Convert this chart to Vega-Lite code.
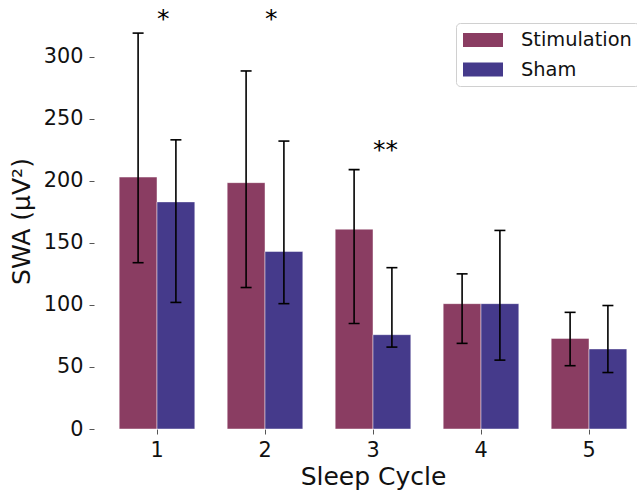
{
  "$schema": "https://vega.github.io/schema/vega-lite/v6.json",
  "autosize": "none",
  "padding": {"left": 94, "top": 13, "right": 0, "bottom": 62},
  "width": 543,
  "height": 416,
  "background": "white",
  "config": {
    "view": {"stroke": null},
    "font": "DejaVu Sans",
    "axis": {
      "domain": false,
      "grid": false,
      "labelFont": "DejaVu Sans",
      "titleFont": "DejaVu Sans",
      "labelFontSize": 20.8,
      "titleFontSize": 25,
      "titleFontWeight": "normal",
      "labelColor": "#111111",
      "titleColor": "#111111",
      "tickColor": "#555555",
      "tickSize": 5,
      "tickWidth": 1
    },
    "legend": {
      "labelFont": "DejaVu Sans",
      "labelFontSize": 19.4,
      "labelColor": "#111111"
    }
  },
  "datasets": {
    "bars": [
      {"cycle": "1", "group": "Stimulation", "value": 203, "lo": 134, "hi": 319},
      {"cycle": "1", "group": "Sham", "value": 183, "lo": 102, "hi": 233},
      {"cycle": "2", "group": "Stimulation", "value": 198.5, "lo": 114, "hi": 288.5},
      {"cycle": "2", "group": "Sham", "value": 143, "lo": 101, "hi": 232},
      {"cycle": "3", "group": "Stimulation", "value": 161, "lo": 85, "hi": 209},
      {"cycle": "3", "group": "Sham", "value": 76, "lo": 66, "hi": 130},
      {"cycle": "4", "group": "Stimulation", "value": 101, "lo": 69, "hi": 125},
      {"cycle": "4", "group": "Sham", "value": 101, "lo": 55.5, "hi": 160},
      {"cycle": "5", "group": "Stimulation", "value": 73, "lo": 51, "hi": 94},
      {"cycle": "5", "group": "Sham", "value": 64.5, "lo": 45.5, "hi": 99.5}
    ],
    "stars": [
      {"cycle": "1", "label": "*", "y": 324},
      {"cycle": "2", "label": "*", "y": 324},
      {"cycle": "3", "label": "**", "y": 218.5}
    ]
  },
  "encoding": {
    "x": {
      "field": "cycle",
      "type": "ordinal",
      "sort": ["1", "2", "3", "4", "5"],
      "scale": {"paddingInner": 0.3, "paddingOuter": 0.1639, "align": 0.7119},
      "axis": {"title": "Sleep Cycle", "labelAngle": 0, "labelPadding": 6, "titlePadding": 5, "titleX": 279}
    }
  },
  "layer": [
    {
      "data": {"name": "bars"},
      "mark": {"type": "bar", "stroke": "#ffffff", "strokeOpacity": 0.45, "strokeWidth": 1},
      "encoding": {
        "xOffset": {"field": "group", "type": "nominal", "sort": ["Stimulation", "Sham"], "scale": {"paddingInner": 0, "paddingOuter": 0}},
        "y": {
          "field": "value",
          "type": "quantitative",
          "scale": {"domain": [0, 335.2], "nice": false},
          "axis": {"title": "SWA (µV²)", "values": [0, 50, 100, 150, 200, 250, 300], "labelPadding": 6, "titlePadding": 9}
        },
        "color": {
          "field": "group",
          "type": "nominal",
          "sort": ["Stimulation", "Sham"],
          "scale": {"domain": ["Stimulation", "Sham"], "range": ["#8a3d62", "#453a8b"]},
          "legend": {
            "title": null,
            "orient": "none",
            "legendX": 362,
            "legendY": 10,
            "symbolType": "M-2,-0.7H2V0.7H-2Z",
            "symbolSize": 400,
            "symbolOffset": 10,
            "symbolStrokeWidth": 0,
            "symbolOpacity": 1,
            "labelOffset": 28,
            "labelLimit": 400,
            "padding": 7,
            "rowPadding": 9.5,
            "strokeColor": "#d0d0d0",
            "fillColor": "rgba(255,255,255,0.8)",
            "cornerRadius": 4
          }
        }
      }
    },
    {
      "data": {"name": "bars"},
      "mark": {"type": "rule", "color": "#000000", "strokeWidth": 1.6},
      "encoding": {
        "xOffset": {"field": "group", "type": "nominal", "sort": ["Stimulation", "Sham"]},
        "y": {"field": "lo", "type": "quantitative"},
        "y2": {"field": "hi"}
      }
    },
    {
      "data": {"name": "bars"},
      "mark": {"type": "tick", "color": "#000000", "thickness": 1.6, "size": 11, "opacity": 1},
      "encoding": {
        "xOffset": {"field": "group", "type": "nominal", "sort": ["Stimulation", "Sham"]},
        "y": {"field": "lo", "type": "quantitative"}
      }
    },
    {
      "data": {"name": "bars"},
      "mark": {"type": "tick", "color": "#000000", "thickness": 1.6, "size": 11, "opacity": 1},
      "encoding": {
        "xOffset": {"field": "group", "type": "nominal", "sort": ["Stimulation", "Sham"]},
        "y": {"field": "hi", "type": "quantitative"}
      }
    },
    {
      "data": {"name": "stars"},
      "mark": {"type": "text", "align": "left", "baseline": "alphabetic", "fontSize": 25, "font": "DejaVu Sans", "color": "#000000"},
      "encoding": {
        "y": {"field": "y", "type": "quantitative"},
        "text": {"field": "label"}
      }
    }
  ]
}
